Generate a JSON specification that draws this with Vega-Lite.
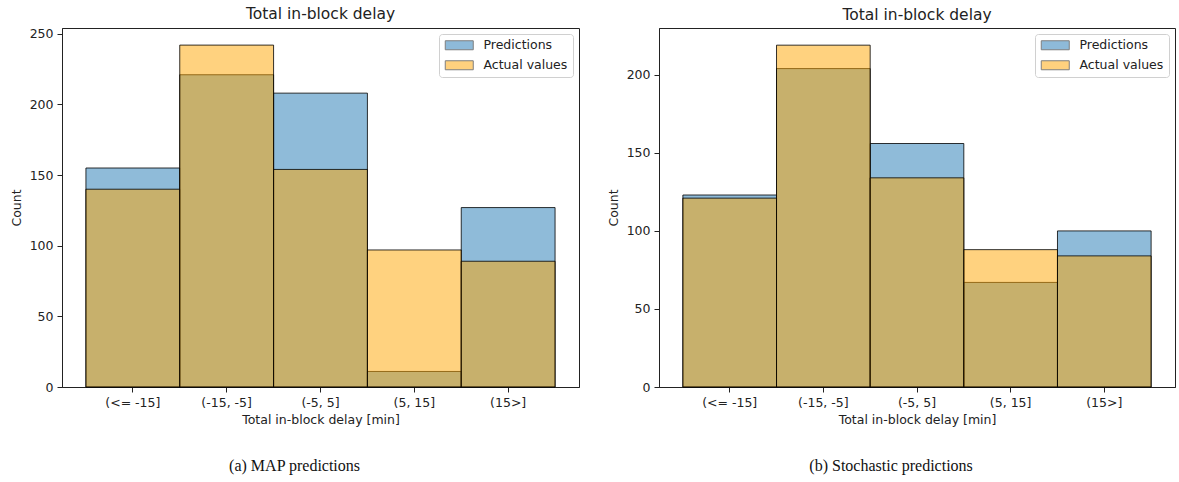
{
  "$schema": "https://vega.github.io/schema/vega-lite/v6.json",
  "padding": {"left": 9, "top": 6, "right": 5, "bottom": 5},
  "background": "white",
  "config": {
    "font": "DejaVu Sans",
    "view": {"stroke": "#222222", "strokeWidth": 1},
    "axis": {"grid": false, "labelFont": "DejaVu Sans", "titleFont": "DejaVu Sans", "labelFontSize": 12.5, "titleFontSize": 12.5, "labelColor": "#222222", "titleColor": "#222222", "tickColor": "#222222", "domainColor": "#222222", "tickSize": 5, "titleFontWeight": "normal", "labelPadding": 4},
    "title": {"font": "DejaVu Sans", "fontSize": 15.5, "fontWeight": "normal", "color": "#222222"},
    "legend": {"labelFont": "DejaVu Sans", "labelFontSize": 12.5, "labelColor": "#222222"}
  },
  "data": {
    "values": [
      {"panel": "MAP", "bin": "(<= -15]", "series": "Predictions", "count": 155},
      {"panel": "MAP", "bin": "(-15, -5]", "series": "Predictions", "count": 221},
      {"panel": "MAP", "bin": "(-5, 5]", "series": "Predictions", "count": 208},
      {"panel": "MAP", "bin": "(5, 15]", "series": "Predictions", "count": 11},
      {"panel": "MAP", "bin": "(15>]", "series": "Predictions", "count": 127},
      {"panel": "MAP", "bin": "(<= -15]", "series": "Actual values", "count": 140},
      {"panel": "MAP", "bin": "(-15, -5]", "series": "Actual values", "count": 242},
      {"panel": "MAP", "bin": "(-5, 5]", "series": "Actual values", "count": 154},
      {"panel": "MAP", "bin": "(5, 15]", "series": "Actual values", "count": 97},
      {"panel": "MAP", "bin": "(15>]", "series": "Actual values", "count": 89},
      {"panel": "Stochastic", "bin": "(<= -15]", "series": "Predictions", "count": 123},
      {"panel": "Stochastic", "bin": "(-15, -5]", "series": "Predictions", "count": 204},
      {"panel": "Stochastic", "bin": "(-5, 5]", "series": "Predictions", "count": 156},
      {"panel": "Stochastic", "bin": "(5, 15]", "series": "Predictions", "count": 67},
      {"panel": "Stochastic", "bin": "(15>]", "series": "Predictions", "count": 100},
      {"panel": "Stochastic", "bin": "(<= -15]", "series": "Actual values", "count": 121},
      {"panel": "Stochastic", "bin": "(-15, -5]", "series": "Actual values", "count": 219},
      {"panel": "Stochastic", "bin": "(-5, 5]", "series": "Actual values", "count": 134},
      {"panel": "Stochastic", "bin": "(5, 15]", "series": "Actual values", "count": 88},
      {"panel": "Stochastic", "bin": "(15>]", "series": "Actual values", "count": 84}
    ]
  },
  "hconcat": [
    {
      "title": {"text": "(a) MAP predictions", "orient": "bottom", "anchor": "middle", "frame": "bounds", "font": "Liberation Serif", "fontSize": 16, "offset": 31, "color": "#111111"},
      "resolve": {"scale": {"color": "independent"}, "legend": {"color": "independent"}},
      "vconcat": [
        {
          "width": 517,
          "height": 359,
          "title": {"text": "Total in-block delay", "offset": 5},
          "transform": [{"filter": "datum.panel === 'MAP'"}],
          "encoding": {
            "x": {"field": "bin", "type": "nominal", "sort": ["(<= -15]", "(-15, -5]", "(-5, 5]", "(5, 15]", "(15>]"], "scale": {"paddingInner": 0, "paddingOuter": 0.255}, "axis": {"labelAngle": 0, "title": "Total in-block delay [min]", "titlePadding": 5}},
            "y": {"field": "count", "type": "quantitative", "scale": {"domain": [0, 254.1], "nice": false}, "axis": {"values": [0, 50, 100, 150, 200, 250], "title": "Count", "titlePadding": 6}},
            "color": {"field": "series", "type": "nominal", "scale": {"domain": ["Predictions", "Actual values"], "range": ["#1f77b4", "#ffa500"]}, "legend": {"title": null, "orient": "top-right", "offset": 6, "padding": 5, "strokeColor": "#d0d0d0", "fillColor": "white", "cornerRadius": 3, "symbolType": "M-1,-0.9H4.6V0.9H-1Z", "symbolSize": 100, "symbolOpacity": 0.5, "symbolStrokeColor": "black", "symbolStrokeWidth": 1, "rowPadding": 6, "labelOffset": 27}}
          },
          "layer": [
            {"transform": [{"filter": "datum.series === 'Predictions'"}], "mark": {"type": "bar", "fillOpacity": 0.5, "stroke": "black", "strokeWidth": 1, "strokeOpacity": 0.8}},
            {"transform": [{"filter": "datum.series === 'Actual values'"}], "mark": {"type": "bar", "fillOpacity": 0.5, "stroke": "black", "strokeWidth": 1, "strokeOpacity": 0.8}}
          ]
        }
      ]
    },
    {
      "title": {"text": "(b) Stochastic predictions", "orient": "bottom", "anchor": "middle", "frame": "bounds", "font": "Liberation Serif", "fontSize": 16, "offset": 31, "color": "#111111"},
      "resolve": {"scale": {"color": "independent"}, "legend": {"color": "independent"}},
      "vconcat": [
        {
          "width": 516,
          "height": 359,
          "title": {"text": "Total in-block delay", "offset": 5},
          "transform": [{"filter": "datum.panel === 'Stochastic'"}],
          "encoding": {
            "x": {"field": "bin", "type": "nominal", "sort": ["(<= -15]", "(-15, -5]", "(-5, 5]", "(5, 15]", "(15>]"], "scale": {"paddingInner": 0, "paddingOuter": 0.255}, "axis": {"labelAngle": 0, "title": "Total in-block delay [min]", "titlePadding": 5}},
            "y": {"field": "count", "type": "quantitative", "scale": {"domain": [0, 230], "nice": false}, "axis": {"values": [0, 50, 100, 150, 200], "title": "Count", "titlePadding": 6}},
            "color": {"field": "series", "type": "nominal", "scale": {"domain": ["Predictions", "Actual values"], "range": ["#1f77b4", "#ffa500"]}, "legend": {"title": null, "orient": "top-right", "offset": 6, "padding": 5, "strokeColor": "#d0d0d0", "fillColor": "white", "cornerRadius": 3, "symbolType": "M-1,-0.9H4.6V0.9H-1Z", "symbolSize": 100, "symbolOpacity": 0.5, "symbolStrokeColor": "black", "symbolStrokeWidth": 1, "rowPadding": 6, "labelOffset": 27}}
          },
          "layer": [
            {"transform": [{"filter": "datum.series === 'Predictions'"}], "mark": {"type": "bar", "fillOpacity": 0.5, "stroke": "black", "strokeWidth": 1, "strokeOpacity": 0.8}},
            {"transform": [{"filter": "datum.series === 'Actual values'"}], "mark": {"type": "bar", "fillOpacity": 0.5, "stroke": "black", "strokeWidth": 1, "strokeOpacity": 0.8}}
          ]
        }
      ]
    }
  ],
  "spacing": 26,
  "resolve": {"scale": {"color": "independent"}, "legend": {"color": "independent"}}
}
